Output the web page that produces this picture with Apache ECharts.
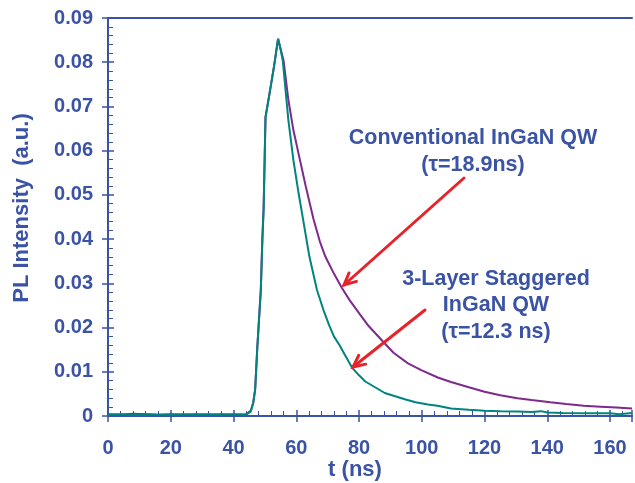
<!DOCTYPE html>
<html>
<head>
<meta charset="utf-8">
<script src="https://cdn.jsdelivr.net/npm/echarts@6/dist/echarts.min.js"></script>
<style>html,body{margin:0;padding:0;background:#fff}#c{width:635px;height:483px}</style>
</head>
<body>
<div id="c"></div>
<script>
// Time axis (ns) and PL intensity (a.u.)
const tConv = [0,4,8,12,16,20,24,28,32,36,40,44,45.5,46.3,46.9,47.6,48.7,49.2,49.6,50.2,51.5,52.9,54.2,55.0,55.95,57.5,59.1,61.2,63,65.5,67.5,69.3,72,74.5,77,80.3,83,87.7,91,95.6,100,105.1,109.3,115,120,125,130.5,135,141,146,151.6,157,162,167];
const vConv = [0.0004,0.0003,0.0005,0.0004,0.0003,0.0004,0.0003,0.0004,0.0003,0.0004,0.0003,0.0004,0.0012,0.003,0.006,0.0157,0.0285,0.040,0.047,0.0676,0.073,0.079,0.0853,0.0830,0.0804,0.0714,0.0646,0.0578,0.0520,0.0445,0.0395,0.0360,0.0322,0.0290,0.0262,0.0230,0.0204,0.0168,0.0143,0.0119,0.0103,0.0087,0.0077,0.0065,0.0055,0.0047,0.0040,0.0036,0.0031,0.0027,0.0023,0.0021,0.0019,0.0017];
const tStag = [0,4,8,12,16,20,24,28,32,36,40,44,45.5,46.3,46.9,47.6,48.7,49.2,49.6,50.2,51.5,52.9,54.2,55.0,55.7,57.5,59.1,60.6,62.4,64.2,66.6,68.7,70.5,72,73.8,77.7,80,82,85.1,88.2,94.6,98,102,105,109.3,115,120,125,130.5,135,138,140,145,151.6,156,160,163,167];
const vStag = [0.0003,0.0004,0.0003,0.0004,0.0003,0.0003,0.0004,0.0003,0.0004,0.0003,0.0004,0.0003,0.001,0.003,0.006,0.0157,0.0285,0.040,0.047,0.0676,0.073,0.079,0.0853,0.0830,0.0804,0.0668,0.0578,0.0510,0.0435,0.0360,0.0285,0.0239,0.0205,0.0180,0.0160,0.0110,0.0092,0.0078,0.0065,0.0052,0.0038,0.0031,0.0026,0.0023,0.0017,0.0014,0.0012,0.0011,0.0010,0.0009,0.0011,0.0008,0.0007,0.0006,0.0006,0.0006,0.0004,0.0007];
const xTickStep = 20;
const yTickStep = 0.01;

const BLUE = '#3a53a4';
const FONT = '"Liberation Sans", Arial, sans-serif';
const chart = echarts.init(document.getElementById('c'), null, {renderer:'canvas'});

function arrow(x1,y1,x2,y2){
  const dx=x2-x1, dy=y2-y1, L=Math.hypot(dx,dy), ux=dx/L, uy=dy/L;
  const h=13, a=Math.PI/7;
  const p1=[x2-h*(ux*Math.cos(a)-uy*Math.sin(a)), y2-h*(uy*Math.cos(a)+ux*Math.sin(a))];
  const p2=[x2-h*(ux*Math.cos(a)+uy*Math.sin(a)), y2-h*(uy*Math.cos(a)-ux*Math.sin(a))];
  const st={stroke:'#e8222a', lineWidth:3, fill:null, lineCap:'round', lineJoin:'miter'};
  return [
    {type:'line', shape:{x1,y1,x2,y2}, style:st, z:100},
    {type:'polyline', shape:{points:[p1,[x2,y2],p2]}, style:st, z:100}
  ];
}
function txt(x,y,s,size,rot){
  return {type:'text', x, y, rotation:rot||0, style:{text:s, fill:BLUE, font:'bold '+size+'px '+FONT, textAlign:'center', textVerticalAlign:'middle'}, z:100};
}

const option = {
  animation:false,
  grid:{left:108, right:0, top:18, bottom:67, containLabel:false},
  xAxis:[
    {type:'value', min:0, max:167, interval:xTickStep, position:'bottom',
     axisLine:{lineStyle:{color:BLUE, width:2}},
     axisTick:{show:true, inside:false, length:6, lineStyle:{color:BLUE, width:1.5}},
     axisLabel:{color:BLUE, fontSize:20, fontWeight:'bold', fontFamily:FONT, margin:22,
       formatter:v=> (Math.abs(v % xTickStep) < 1e-9 ? String(v) : '')},
     splitLine:{show:false}},
    {type:'value', min:0, max:167, interval:xTickStep, position:'bottom',
     axisLine:{show:false},
     axisTick:{show:true, inside:true, length:6, lineStyle:{color:BLUE, width:1.5}},
     minorTick:{show:true, splitNumber:5, length:5, lineStyle:{color:BLUE, width:1}},
     axisLabel:{show:false}, splitLine:{show:false}},
    {type:'value', min:0, max:167, position:'top',
     axisLine:{lineStyle:{color:BLUE, width:2}}, axisTick:{show:false}, axisLabel:{show:false}, splitLine:{show:false}}
  ],
  yAxis:[
    {type:'value', min:0, max:0.09, interval:yTickStep, position:'left',
     axisLine:{show:true, lineStyle:{color:BLUE, width:2}},
     axisTick:{show:true, inside:false, length:6, lineStyle:{color:BLUE, width:1.5}},
     axisLabel:{color:BLUE, fontSize:20, fontWeight:'bold', fontFamily:FONT, margin:15},
     splitLine:{show:false}},
    {type:'value', min:0, max:0.09, interval:yTickStep, position:'left',
     axisLine:{show:false},
     axisTick:{show:true, inside:true, length:6, lineStyle:{color:BLUE, width:1.5}},
     minorTick:{show:true, splitNumber:5, length:5, lineStyle:{color:BLUE, width:1}},
     axisLabel:{show:false}, splitLine:{show:false}}
  ],
  series:[
    {type:'line', name:'Conventional InGaN QW', xAxisIndex:0, yAxisIndex:0, showSymbol:false, symbol:'none',
     data:tConv.map((t,i)=>[t,vConv[i]]), lineStyle:{color:'#7d2a8c', width:2}, z:2, clip:true},
    {type:'line', name:'3-Layer Staggered InGaN QW', xAxisIndex:0, yAxisIndex:0, showSymbol:false, symbol:'none',
     data:tStag.map((t,i)=>[t,vStag[i]]), lineStyle:{color:'#00847e', width:2}, z:3, clip:true}
  ],
  graphic:[
    txt(22,208,'PL Intensity  (a.u.)',22,Math.PI/2),
    txt(355,470,'t (ns)',22),
    txt(473,138,'Conventional InGaN QW',21.5),
    txt(473,165,'(τ=18.9ns)',21.5),
    txt(496,279,'3-Layer Staggered',21.5),
    txt(496,305,'InGaN QW',21.5),
    txt(496,332,'(τ=12.3 ns)',21.5),
    ...arrow(464,178,344,285),
    ...arrow(425,310,353,367)
  ]
};
chart.setOption(option);
</script>
</body>
</html>
